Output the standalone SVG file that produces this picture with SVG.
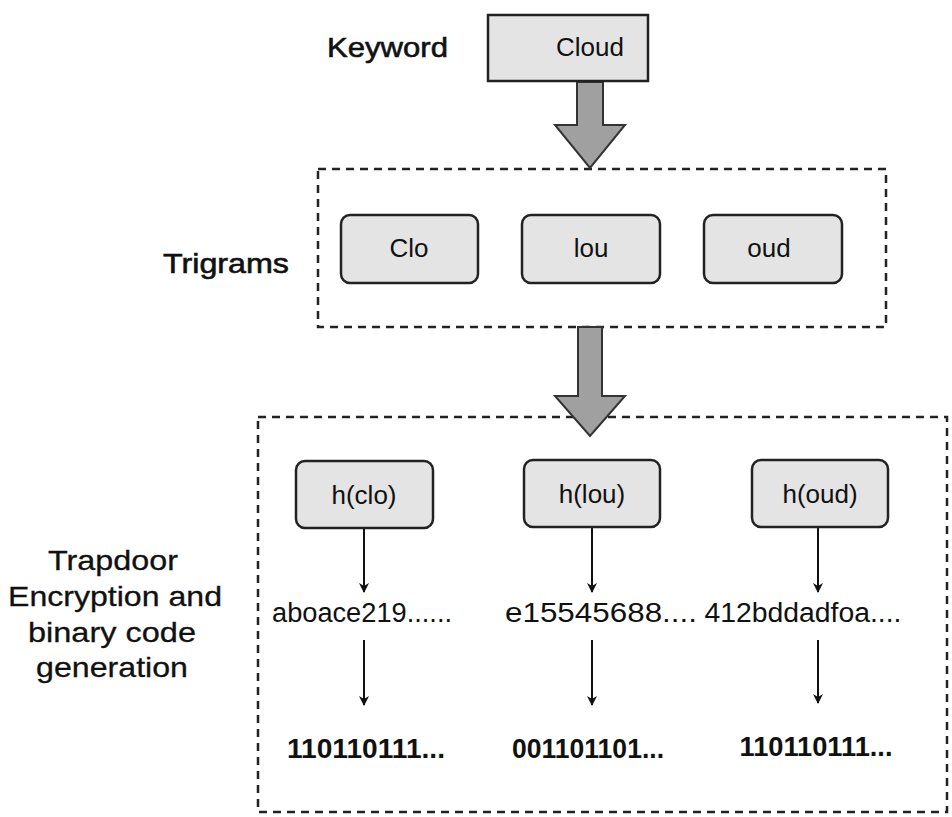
<svg xmlns="http://www.w3.org/2000/svg" width="952" height="817" viewBox="0 0 952 817">
<defs>
<style>
.t{font-family:"Liberation Sans",Arial,sans-serif;fill:#111;}
.lbl{font-size:28px;stroke:#111;stroke-width:0.6px;}
.lb2{font-size:28px;stroke:#111;stroke-width:0.3px;}
.in{font-size:26px;text-anchor:middle;}
.hx{font-size:27px;text-anchor:middle;}
.bn{font-size:27px;text-anchor:middle;font-weight:bold;}
.box{fill:#e4e4e4;stroke:#222;stroke-width:2.5;}
.dash{fill:none;stroke:#222;stroke-width:2.5;stroke-dasharray:8 6;}
.big{fill:#a0a0a0;stroke:#333;stroke-width:2;}
.ln{stroke:#111;stroke-width:2;fill:none;marker-end:url(#ah);}
</style>
<marker id="ah" viewBox="0 0 10 10" refX="9" refY="5" markerWidth="10" markerHeight="10" markerUnits="userSpaceOnUse" orient="auto">
<path d="M0,0 L10,5 L0,10 L3,5 z" fill="#111"/>
</marker>
</defs>
<rect width="952" height="817" fill="#fff"/>

<g id="containers">
<rect class="dash" x="318" y="169" width="568" height="158"/>
<rect class="dash" x="258" y="417" width="689" height="395"/>
</g>

<g id="labels">
<text class="t lbl" x="327" y="57" textLength="121" lengthAdjust="spacingAndGlyphs">Keyword</text>
<text class="t lbl" x="163" y="273" textLength="126" lengthAdjust="spacingAndGlyphs">Trigrams</text>
<text class="t lb2" x="48" y="570" textLength="130" lengthAdjust="spacingAndGlyphs">Trapdoor</text>
<text class="t lb2" x="8" y="606" textLength="214" lengthAdjust="spacingAndGlyphs">Encryption and</text>
<text class="t lb2" x="28" y="642" textLength="168" lengthAdjust="spacingAndGlyphs">binary code</text>
<text class="t lb2" x="36" y="677" textLength="152" lengthAdjust="spacingAndGlyphs">generation</text>
</g>

<g id="connectors">
<polygon class="big" points="577,82 603,82 603,125 625,125 590,168 555,125 577,125"/>
<polygon class="big" points="578,327 602,327 602,396 625,396 590,436 555,396 578,396"/>
<line class="ln" x1="364" y1="528" x2="364" y2="592"/>
<line class="ln" x1="364" y1="640" x2="364" y2="705"/>
<line class="ln" x1="592" y1="527" x2="592" y2="592"/>
<line class="ln" x1="592" y1="640" x2="592" y2="705"/>
<line class="ln" x1="818" y1="527" x2="818" y2="592"/>
<line class="ln" x1="818" y1="640" x2="818" y2="703"/>
</g>

<g id="cloud">
<rect class="box" x="488" y="15" width="160" height="66"/>
<text class="t in" x="590" y="56">Cloud</text>
</g>

<g id="tri-clo">
<rect class="box" x="341" y="215" width="137" height="68" rx="9"/>
<text class="t in" x="409" y="257">Clo</text>
</g>
<g id="tri-lou">
<rect class="box" x="522" y="215" width="138" height="68" rx="9"/>
<text class="t in" x="591" y="257">lou</text>
</g>
<g id="tri-oud">
<rect class="box" x="704" y="215" width="138" height="68" rx="9"/>
<text class="t in" x="769" y="257">oud</text>
</g>

<g id="h-clo">
<rect class="box" x="296" y="461" width="137" height="67" rx="9"/>
<text class="t in" x="364" y="504">h(clo)</text>
</g>
<g id="h-lou">
<rect class="box" x="524" y="460" width="136" height="67" rx="9"/>
<text class="t in" x="592" y="503">h(lou)</text>
</g>
<g id="h-oud">
<rect class="box" x="752" y="460" width="136" height="67" rx="9"/>
<text class="t in" x="820" y="503">h(oud)</text>
</g>

<g id="hash-1"><text class="t hx" x="362" y="622" textLength="180" lengthAdjust="spacingAndGlyphs">aboace219......</text></g>
<g id="hash-2"><text class="t hx" x="601" y="622" textLength="192" lengthAdjust="spacingAndGlyphs">e15545688....</text></g>
<g id="hash-3"><text class="t hx" x="803" y="622" textLength="197" lengthAdjust="spacingAndGlyphs">412bddadfoa....</text></g>

<g id="bin-1"><text class="t bn" x="366" y="758" textLength="158" lengthAdjust="spacingAndGlyphs">110110111...</text></g>
<g id="bin-2"><text class="t bn" x="588" y="758" textLength="152" lengthAdjust="spacingAndGlyphs">001101101...</text></g>
<g id="bin-3"><text class="t bn" x="816" y="756" textLength="153" lengthAdjust="spacingAndGlyphs">110110111...</text></g>
</svg>
